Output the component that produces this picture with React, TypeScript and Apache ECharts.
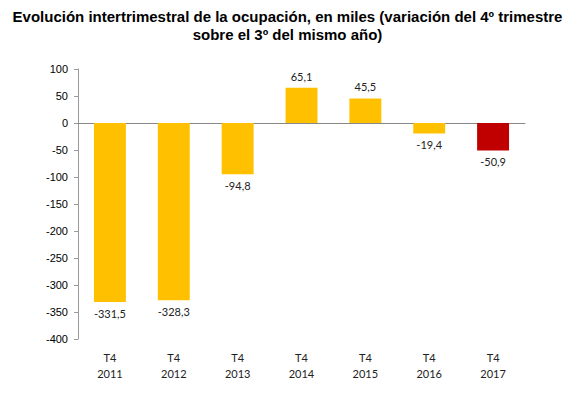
import React, { useEffect, useRef } from "react";
import * as echarts from "echarts";

const categories = ["T4\n2011", "T4\n2012", "T4\n2013", "T4\n2014", "T4\n2015", "T4\n2016", "T4\n2017"];
const values = [-331.5, -328.3, -94.8, 65.1, 45.5, -19.4, -50.9];
const barColors = ["#FFC000", "#FFC000", "#FFC000", "#FFC000", "#FFC000", "#FFC000", "#C00000"];
const titleText = "Evolución intertrimestral de la ocupación, en miles (variación del 4º trimestre\nsobre el 3º del mismo año)";

export default function App() {
  const ref = useRef<HTMLDivElement>(null);
  useEffect(() => {
    if (!ref.current) return;
    const chart = echarts.init(ref.current, null, { renderer: "svg" });
    chart.setOption({
      animation: false,
      backgroundColor: "#ffffff",
      title: {
        text: titleText,
        left: "center",
        top: 2,
        textStyle: {
          fontFamily: "Liberation Sans, Arial, sans-serif",
          fontWeight: "bold",
          fontSize: 15,
          lineHeight: 18,
          color: "#000",
        },
      },
      grid: { left: 78, right: 50, top: 69, bottom: 55 },
      xAxis: [
        {
          type: "category",
          data: categories,
          position: "bottom",
          axisLine: { show: false, onZero: false },
          axisTick: { show: false },
          axisLabel: {
            fontFamily: "Lato, sans-serif",
            fontSize: 11,
            lineHeight: 16,
            color: "#222",
            margin: 10,
            interval: 0,
          },
        },
        {
          type: "category",
          data: categories,
          position: "bottom",
          axisLine: { show: true, onZero: true, lineStyle: { color: "#888", width: 1 } },
          axisTick: { show: false },
          axisLabel: { show: false },
        },
      ],
      yAxis: {
        type: "value",
        min: -400,
        max: 100,
        interval: 50,
        axisLine: { show: true, lineStyle: { color: "#999" } },
        axisTick: { show: true, length: 4, lineStyle: { color: "#999" } },
        splitLine: { show: false },
        axisLabel: {
          fontFamily: "Liberation Sans, Arial, sans-serif",
          fontSize: 11,
          color: "#000",
          margin: 10,
        },
      },
      series: [
        {
          type: "bar",
          xAxisIndex: 0,
          barWidth: "50%",
          data: values.map((v, i) => ({
            value: v,
            itemStyle: { color: barColors[i] },
            label: { position: v >= 0 ? "top" : "bottom" },
          })),
          label: {
            show: true,
            fontFamily: "Lato, sans-serif",
            fontSize: 11,
            color: "#222",
            distance: 6,
            formatter: (p: any) => String(p.value).replace(".", ","),
          },
        },
      ],
    });
    return () => chart.dispose();
  }, []);
  return (
    <div
      ref={ref}
      style={{ position: "fixed", left: 0, top: 0, width: 575, height: 394 }}
    />
  );
}
